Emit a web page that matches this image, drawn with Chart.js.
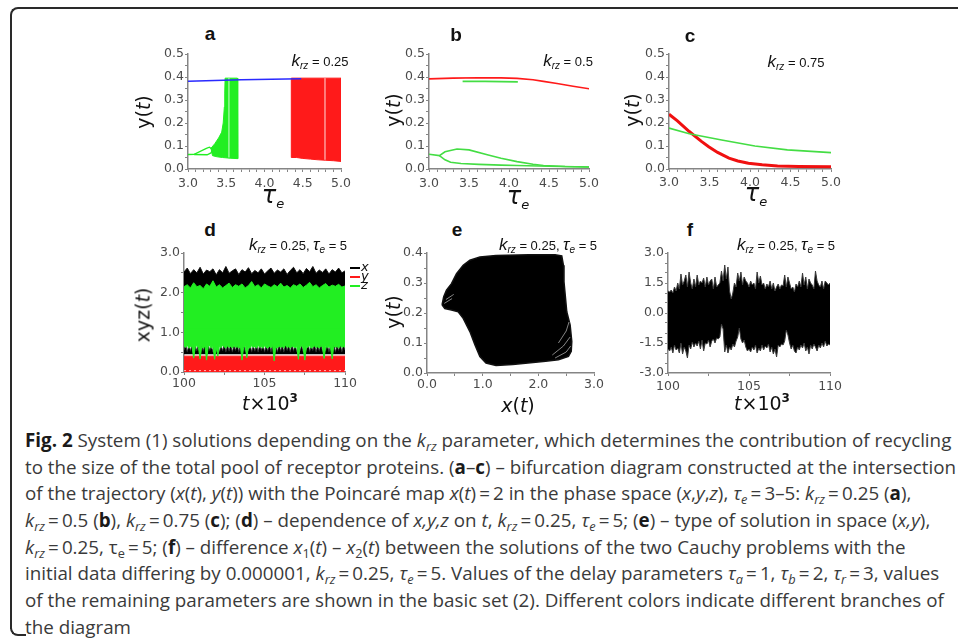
<!DOCTYPE html>
<html>
<head>
<meta charset="utf-8">
<script src="https://cdn.jsdelivr.net/npm/chart.js@4.4.1/dist/chart.umd.min.js"></script>
<style>
html, body { margin: 0; padding: 0; background: #fff; width: 958px; height: 644px; overflow: hidden; position: relative; font-family: 'DejaVu Sans', sans-serif; }
.box { position: absolute; }
.lbl { position: absolute; transform: translate(-50%, -50%); white-space: nowrap; color: #111; line-height: 1; }
.rot { transform: translate(-50%, -50%) rotate(-90deg); }
.letter { font-family: 'Liberation Sans', Arial, sans-serif; font-weight: bold; font-size: 19px; color: #111; }
.klab { font-family: 'Liberation Sans', Arial, sans-serif; font-size: 13px; color: #111; }
.klab .k { font-style: italic; font-size: 17px; }
.klab sub { font-size: 10px; font-style: italic; vertical-align: -3px; line-height: 0; }
.klab .t { font-style: italic; font-size: 17px; }
.atitle { font-size: 19px; color: #111; }
.atitle sub { font-size: 13px; font-style: italic; vertical-align: -5px; line-height: 0; }
.atitle sup { font-size: 12px; font-weight: bold; vertical-align: 8px; line-height: 0; }
.leg { position: absolute; font-size: 13px; font-style: italic; color: #111; line-height: 1; }
.legline { position: absolute; height: 2px; width: 10px; }
.frame { position: absolute; left: 10px; top: 7px; width: 1000px; height: 620px; border-left: 2px solid #2a2a2a; border-top: 2px solid #2a2a2a; border-top-left-radius: 8px; }
.frame2 { position: absolute; left: 10px; top: 624px; width: 14px; height: 10px; border-left: 2px solid #2a2a2a; border-bottom: 2px solid #2a2a2a; border-bottom-left-radius: 8px; }
#caption { position: absolute; left: 25px; top: 427px; font-family: 'Open Sans', sans-serif; font-size: 18.8px; line-height: 26.67px; color: #3a3a3a; }
#caption div { white-space: nowrap; }
#caption b { color: #1a1a1a; }
#caption sub { font-size: 0.68em; line-height: 0; vertical-align: -0.28em; }
</style>
</head>
<body>
<div class="frame"></div>
<div class="frame2"></div>

<script>
// ---------------------------------------------------------------- data
// (a) k_rz = 0.25
const aBlueX = [3.0, 3.7, 4.48];
const aBlueY = [0.381, 0.388, 0.392];
const aGreenAreaX = [3.30, 3.35, 3.40, 3.44, 3.46, 3.475, 3.48, 3.485, 3.645, 3.65, 3.55, 3.45, 3.38, 3.32, 3.30];
const aGreenAreaY = [0.09, 0.11, 0.135, 0.16, 0.20, 0.27, 0.33, 0.395, 0.395, 0.045, 0.047, 0.05, 0.053, 0.058, 0.09];
const aBranchUX = [3.0, 3.08, 3.24, 3.28, 3.32];
const aBranchUY = [0.063, 0.064, 0.09, 0.095, 0.085];
const aBranchLX = [3.08, 3.25, 3.30, 3.32];
const aBranchLY = [0.063, 0.062, 0.07, 0.085];
const aRedAreaX = [4.35, 5.0, 5.0, 4.9, 4.8, 4.7, 4.6, 4.5, 4.42, 4.35, 4.35];
const aRedAreaY = [0.395, 0.395, 0.033, 0.036, 0.038, 0.04, 0.043, 0.046, 0.05, 0.05, 0.395];
const aGapX = [4.79, 4.79, null, 3.535, 3.535];
const aGapY = [0.04, 0.395, null, 0.05, 0.395];

// (b) k_rz = 0.5
const bRedX = [3.0, 3.3, 3.62, 3.9, 4.1, 4.3, 4.43, 4.6, 4.8, 5.0];
const bRedY = [0.392, 0.395, 0.397, 0.396, 0.394, 0.388, 0.381, 0.372, 0.36, 0.349];
const bGreenShortX = [3.42, 3.7, 4.11];
const bGreenShortY = [0.381, 0.381, 0.379];
const bGreenUpX = [3.0, 3.13, 3.2, 3.35, 3.5, 3.74, 3.9, 4.1, 4.3, 4.43, 4.7, 5.0];
const bGreenUpY = [0.064, 0.058, 0.075, 0.087, 0.083, 0.061, 0.047, 0.032, 0.021, 0.015, 0.011, 0.009];
const bGreenLoX = [3.13, 3.2, 3.27, 3.4, 3.62, 3.9, 4.1, 4.5, 5.0];
const bGreenLoY = [0.058, 0.04, 0.029, 0.024, 0.02, 0.017, 0.015, 0.012, 0.009];

// (c) k_rz = 0.75
const cRedX = [3.0, 3.1, 3.25, 3.4, 3.49, 3.6, 3.74, 3.85, 3.98, 4.15, 4.34, 4.6, 5.0];
const cRedY = [0.238, 0.21, 0.163, 0.12, 0.097, 0.072, 0.047, 0.035, 0.025, 0.018, 0.013, 0.011, 0.010];
const cGreenX = [3.0, 3.25, 3.65, 4.06, 4.46, 5.0];
const cGreenY = [0.178, 0.153, 0.126, 0.1, 0.083, 0.071];

// (d) x, y, z against t (x10^3), sampled envelopes
const dT0 = 100;
const dRedX = [100, 110];
const dRedY = [0.4, 0.4];
const dBlackTop = [   // every 0.2
  2.52, 2.62, 2.48, 2.58, 2.5, 2.64, 2.47, 2.57, 2.53, 2.6,
  2.45, 2.58, 2.5, 2.66, 2.49, 2.55, 2.6, 2.46, 2.58, 2.52,
  2.63, 2.48, 2.56, 2.5, 2.6, 2.47, 2.55, 2.62, 2.49, 2.57,
  2.52, 2.6, 2.46, 2.56, 2.64, 2.5, 2.58, 2.48, 2.61, 2.53,
  2.66, 2.49, 2.57, 2.51, 2.6, 2.47, 2.58, 2.52, 2.62, 2.5, 2.55];
const dGreenTop = [   // every 0.2
  2.15, 2.2, 2.12, 2.25, 2.15, 2.18, 2.1, 2.22, 2.16, 2.3,
  2.14, 2.2, 2.12, 2.18, 2.24, 2.13, 2.2, 2.16, 2.22, 2.12,
  2.18, 2.28, 2.15, 2.2, 2.12, 2.22, 2.17, 2.13, 2.2, 2.15,
  2.24, 2.14, 2.18, 2.12, 2.2, 2.16, 2.22, 2.13, 2.19, 2.26,
  2.15, 2.2, 2.12, 2.18, 2.23, 2.14, 2.19, 2.16, 2.21, 2.14, 2.17];
const dBlackLow = 0.45;
const dBlackTeeth = [   // every 0.1
  0.55, 0.7, 0.5, 0.68, 0.52, 0.72, 0.5, 0.66, 0.53, 0.7,
  0.5, 0.67, 0.52, 0.75, 0.5, 0.69, 0.54, 0.66, 0.5, 0.78,
  0.52, 0.7, 0.5, 0.66, 0.53, 0.72, 0.5, 0.68, 0.52, 0.7,
  0.5, 0.66, 0.54, 0.71, 0.5, 0.68, 0.52, 0.74, 0.5, 0.67,
  0.53, 0.7, 0.5, 0.66, 0.52, 0.72, 0.5, 0.68, 0.54, 0.7,
  0.5, 0.67, 0.52, 0.7, 0.5, 0.73, 0.53, 0.66, 0.5, 0.7,
  0.52, 0.68, 0.5, 0.72, 0.54, 0.66, 0.5, 0.7, 0.52, 0.68,
  0.5, 0.71, 0.53, 0.66, 0.5, 0.7, 0.52, 0.74, 0.5, 0.67,
  0.54, 0.7, 0.5, 0.68, 0.52, 0.72, 0.5, 0.66, 0.53, 0.7,
  0.5, 0.68, 0.52, 0.71, 0.5, 0.67, 0.54, 0.7, 0.5, 0.69, 0.55];
const dGreenLow = [   // every 0.1
  0.66, 0.62, 0.68, 0.6, 0.65, 0.63, 0.35, 0.62, 0.67, 0.61,
  0.33, 0.64, 0.6, 0.66, 0.3, 0.62, 0.68, 0.6, 0.64, 0.32,
  0.62, 0.4, 0.66, 0.61, 0.68, 0.63, 0.6, 0.66, 0.62, 0.65,
  0.6, 0.67, 0.62, 0.64, 0.6, 0.66, 0.3, 0.62, 0.65, 0.36,
  0.63, 0.6, 0.67, 0.62, 0.65, 0.6, 0.68, 0.62, 0.64, 0.6,
  0.66, 0.62, 0.6, 0.65, 0.61, 0.67, 0.28, 0.63, 0.6, 0.66,
  0.62, 0.65, 0.6, 0.68, 0.62, 0.64, 0.6, 0.66, 0.63, 0.61,
  0.65, 0.32, 0.62, 0.66, 0.6, 0.3, 0.64, 0.62, 0.67, 0.6,
  0.63, 0.66, 0.61, 0.64, 0.6, 0.67, 0.62, 0.34, 0.65, 0.61,
  0.64, 0.6, 0.33, 0.66, 0.62, 0.65, 0.6, 0.67, 0.62, 0.64, 0.63];

// (e) phase portrait outline (x, y)
const eBlobX = [0.27, 0.30, 0.35, 0.44, 0.53, 0.65, 0.77, 0.95, 1.24, 1.83, 2.30, 2.42, 2.45, 2.46, 2.51, 2.57, 2.60,
                2.59, 2.54, 2.36, 2.13, 1.54, 1.24, 1.06, 0.95, 0.86, 0.77, 0.65, 0.56, 0.44, 0.32, 0.27];
const eBlobY = [0.227, 0.254, 0.276, 0.298, 0.331, 0.359, 0.376, 0.387, 0.392, 0.394, 0.394, 0.39, 0.359, 0.304, 0.204, 0.16, 0.105,
                0.072, 0.055, 0.044, 0.039, 0.028, 0.025, 0.033, 0.055, 0.094, 0.138, 0.182, 0.204, 0.21, 0.215, 0.227];
const eStreakX = [0.31, 0.45, null, 0.34, 0.48, null, 2.25, 2.45, 2.57, null, 2.3, 2.5, 2.58, null, 2.36, 2.5, 2.55];
const eStreakY = [0.232, 0.248, null, 0.245, 0.262, null, 0.06, 0.09, 0.12, null, 0.05, 0.07, 0.09, null, 0.1, 0.14, 0.17];

// (f) x1(t) - x2(t), envelope every 0.1
const fUpper = [
  1.1, 1.05, 1.15, 1.0, 1.3, 1.1, 1.5, 1.2, 1.95, 1.4, 1.6,
  1.9, 1.3, 2.05, 1.5, 1.2, 1.7, 1.3, 1.9, 1.4, 1.6,
  1.5, 1.75, 1.3, 1.8, 1.4, 1.6, 1.7, 1.2, 1.8, 1.3,
  1.4, 1.5, 2.1, 1.6, 2.4, 1.7, 2.3, 1.1, 0.7, 1.0,
  1.5, 1.3, 2.0, 1.6, 2.05, 1.4, 1.8, 1.6, 1.5, 1.3,
  1.6, 1.4, 1.5, 1.2, 2.05, 1.5, 1.85, 1.4, 1.5, 1.2,
  1.45, 1.3, 1.6, 1.2, 1.5, 1.1, 1.3, 1.45, 1.2, 1.4,
  1.35, 1.9, 1.3, 1.8, 1.5, 1.2, 1.3, 1.05, 1.45, 1.3,
  1.6, 1.3, 2.0, 1.4, 1.8, 1.2, 1.7, 1.5, 1.4, 1.2,
  2.1, 1.6, 1.4, 1.3, 1.6, 1.2, 1.6, 1.5, 1.4, 1.5];
const fLower = [
  -1.8, -1.9, -1.7, -2.0, -1.6, -1.85, -1.75, -2.0, -1.5, -2.05, -1.7,
  -1.9, -2.25, -1.6, -1.8, -1.45, -1.7, -1.5, -1.65, -1.4, -1.8,
  -1.35, -1.9, -1.5, -1.55, -1.35, -1.7, -1.4, -1.3, -1.5, -1.25,
  -1.3, -1.2, -0.55, -0.8, -1.95, -1.6, -2.0, -1.7, -1.85, -1.55,
  -1.7, -1.4, -1.2, -0.75, -1.3, -1.5, -1.35, -1.7, -1.9, -1.8,
  -1.95, -1.7, -1.85, -1.6, -2.0, -1.75, -1.9, -1.6, -1.85, -1.65,
  -1.75, -1.55, -1.95, -1.7, -2.05, -1.8, -2.2, -1.6, -1.7, -1.55,
  -1.6, -1.4, -0.85, -1.1, -1.5, -1.8, -1.6, -1.9, -2.0, -1.7,
  -1.85, -1.6, -1.75, -1.5, -1.9, -1.7, -2.05, -1.6, -1.8, -1.55,
  -1.7, -1.9, -1.6, -1.75, -1.5, -1.7, -1.4, -1.65, -1.55, -1.6];

// ---------------------------------------------------------------- colours
const RED = '#ff1a1a';
const GREEN = '#22ee22';
const LGREEN = '#44dd44';
const BLUE = '#2a2aff';

// ---------------------------------------------------------------- helpers
function pts(xs, ys) {
    return xs.map((x, i) => ({x: x, y: ys[i]}));
}
function grid(t0, dt, ys) {
    return ys.map((y, i) => ({x: t0 + i * dt, y: y}));
}
function line(data, color, width, extra) {
    return Object.assign({
        data: data,
        showLine: true,
        borderColor: color,
        borderWidth: width,
        pointRadius: 0,
        fill: false,
        tension: 0,
        spanGaps: false
    }, extra || {});
}
function isMajor(v, s) {
    const q = v / s.major;
    return Math.abs(q - Math.round(q)) < 1e-6;
}
function axis(s, dir) {
    return {
        type: 'linear',
        min: s.min,
        max: s.max,
        afterFit: (sc) => {
            if (dir === 'x') { sc.height = 30; } else { sc.width = 40; }
        },
        border: { display: true, color: '#858585', width: 1.5 },
        grid: { drawOnChartArea: false, drawTicks: true, tickLength: 3, color: '#858585', lineWidth: 1 },
        ticks: {
            stepSize: s.minor,
            autoSkip: false,
            maxRotation: 0,
            padding: s.pad,
            color: '#4a4a4a',
            font: { family: 'DejaVu Sans', size: 12.5 },
            callback: (v) => isMajor(v, s) ? Number(v).toFixed(s.dec) : ''
        }
    };
}
function makePanel(area, xs, ys, layers) {
    const W = area.r - area.l + 50;
    const H = area.b - area.t + 40;
    const wrap = document.createElement('div');
    wrap.className = 'box';
    wrap.style.left = (area.l - 40) + 'px';
    wrap.style.top = (area.t - 10) + 'px';
    const cv = document.createElement('canvas');
    cv.width = W;
    cv.height = H;
    cv.style.width = W + 'px';
    cv.style.height = H + 'px';
    wrap.appendChild(cv);
    document.body.appendChild(wrap);

    // layers come bottom-first, Chart.js paints the first dataset on top
    new Chart(cv, {
        type: 'scatter',
        data: { datasets: layers.slice().reverse() },
        options: {
            responsive: false,
            animation: false,
            devicePixelRatio: 1,
            events: [],
            layout: { padding: { left: 0, top: 10, right: 10, bottom: 0 } },
            plugins: { legend: { display: false }, tooltip: { enabled: false } },
            scales: { x: axis(xs, 'x'), y: axis(ys, 'y') }
        }
    });
}
function place(html, x, y, cls) {
    const el = document.createElement('div');
    el.className = 'lbl ' + (cls || '');
    el.innerHTML = html;
    el.style.left = x + 'px';
    el.style.top = y + 'px';
    document.body.appendChild(el);
    return el;
}

// ---------------------------------------------------------------- panels
const axTau = (pad) => ({ min: 3, max: 5, minor: 0.1, major: 0.5, dec: 1, pad: pad });
const axY05 = { min: 0, max: 0.5, minor: 0.05, major: 0.1, dec: 1, pad: 1 };

makePanel({ l: 188, r: 345, t: 54, b: 169 }, axTau(4), axY05, [
    line(pts(aRedAreaX, aRedAreaY), RED, 1, { fill: 'shape', backgroundColor: RED }),
    line(pts(aGapX, aGapY), 'rgba(255,255,255,0.85)', 1),
    line(pts(aGreenAreaX, aGreenAreaY), GREEN, 1, { fill: 'shape', backgroundColor: GREEN }),
    line(pts(aGapX, aGapY).slice(3), 'rgba(255,255,255,0.8)', 1),
    line(pts(aBranchUX, aBranchUY), GREEN, 1.3),
    line(pts(aBranchLX, aBranchLY), GREEN, 1.3),
    line(pts(aBlueX, aBlueY), BLUE, 1.5)
]);

makePanel({ l: 429, r: 593, t: 54, b: 169 }, axTau(4), axY05, [
    line(pts(bRedX, bRedY), RED, 1.6),
    line(pts(bGreenShortX, bGreenShortY), LGREEN, 1.6),
    line(pts(bGreenUpX, bGreenUpY), LGREEN, 1.6),
    line(pts(bGreenLoX, bGreenLoY), LGREEN, 1.6)
]);

makePanel({ l: 669, r: 834, t: 54, b: 169 }, axTau(3), axY05, [
    line(pts(cRedX, cRedY), '#f01010', 3),
    line(pts(cGreenX, cGreenY), LGREEN, 1.6)
]);

// overlapping fill bases avoid a seam where two fills meet
makePanel({ l: 184, r: 348, t: 253, b: 372 },
    { min: 100, max: 110, minor: 2.5, major: 5, dec: 0, pad: 1 },
    { min: 0, max: 3, minor: 0.5, major: 1, dec: 1, pad: 1 }, [
    line(pts(dRedX, dRedY), RED, 1, { fill: { value: 0 }, backgroundColor: RED }),
    line(pts(dRedX, [0.035, 0.035]), 'rgba(255,255,255,0.7)', 1, { borderDash: [2, 3] }),
    line(grid(dT0, 0.2, dBlackTop), '#111', 1, { fill: { value: 1.5 }, backgroundColor: '#000' }),
    line(grid(dT0, 0.1, dBlackTeeth), '#222', 0.8, { fill: { value: dBlackLow }, backgroundColor: '#000' }),
    line(grid(dT0, 0.2, dGreenTop), GREEN, 1, { fill: { value: 0.9 }, backgroundColor: GREEN }),
    line(grid(dT0, 0.1, dGreenLow), GREEN, 1, { fill: { value: 1.1 }, backgroundColor: GREEN })
]);

makePanel({ l: 427, r: 595, t: 253, b: 373 },
    { min: 0, max: 3, minor: 0.5, major: 1, dec: 1, pad: 1 },
    { min: 0, max: 0.4, minor: 0.05, major: 0.1, dec: 1, pad: 1 }, [
    line(pts(eBlobX, eBlobY), '#111', 1.5, { fill: 'shape', backgroundColor: '#000' }),
    line(pts(eStreakX, eStreakY), 'rgba(255,255,255,0.75)', 0.7)
]);

makePanel({ l: 668, r: 835, t: 253, b: 373 },
    { min: 100, max: 110, minor: 2.5, major: 5, dec: 0, pad: 3 },
    { min: -3, max: 3, minor: 0.5, major: 1.5, dec: 1, pad: 1 }, [
    line(grid(dT0, 0.1, fUpper), '#3a3a3a', 1, { fill: { value: -0.2 }, backgroundColor: '#000' }),
    line(grid(dT0, 0.1, fLower), '#3a3a3a', 1, { fill: { value: 0.2 }, backgroundColor: '#000' })
]);

// ---------------------------------------------------------------- text
const K = (v) => '<span class="k">k</span><sub>rz</sub>&nbsp;= ' + v;
const KT = '<span class="k">k</span><sub>rz</sub>&nbsp;= 0.25, <span class="t">&tau;</span><sub>e</sub>&nbsp;= 5';
const TAU = '<i style="font-size:24px">&tau;</i><sub>e</sub>';
const TX = '<i>t</i>&times;10<sup>3</sup>';
const YT = 'y(<i>t</i>)';

[['a', 210, 33], ['b', 456, 34], ['c', 690, 35], ['d', 210, 229], ['e', 457, 229], ['f', 690, 229]]
    .forEach(p => place(p[0], p[1], p[2], 'letter'));

place(K('0.25'), 320, 60, 'klab');
place(K('0.5'), 568, 60, 'klab');
place(K('0.75'), 796, 61, 'klab');
place(KT, 298, 244, 'klab');
place(KT, 548, 244, 'klab');
place(KT, 786, 244, 'klab');

place(TAU, 273, 195, 'atitle');
place(TAU, 518, 196, 'atitle');
place(TAU, 756, 193, 'atitle');
place(TX, 270, 403, 'atitle');
place('<i>x</i>(<i>t</i>)', 518, 405, 'atitle');
place(TX, 762, 403, 'atitle');

place(YT, 143, 112, 'atitle rot');
place(YT, 393, 110, 'atitle rot');
place(YT, 632, 110, 'atitle rot');
place('xyz(<i>t</i>)', 143, 315, 'atitle rot');
place(YT, 393, 312, 'atitle rot');

// legend of panel d
[['x', '#000', 268], ['y', RED, 277], ['z', GREEN, 286]].forEach(l => {
    const ln = document.createElement('div');
    ln.className = 'legline';
    ln.style.left = '350px';
    ln.style.top = (l[2] - 1) + 'px';
    ln.style.background = l[1];
    document.body.appendChild(ln);
    const tx = document.createElement('div');
    tx.className = 'leg';
    tx.textContent = l[0];
    tx.style.left = '361px';
    tx.style.top = (l[2] - 8) + 'px';
    document.body.appendChild(tx);
});
</script>

<div id="caption">
<div><b>Fig. 2</b> System (1) solutions depending on the <i>k</i><sub><i>rz</i></sub> parameter, which determines the contribution of recycling</div>
<div>to the size of the total pool of receptor proteins. (<b>a</b>–<b>c</b>) – bifurcation diagram constructed at the intersection</div>
<div>of the trajectory (<i>x</i>(<i>t</i>), <i>y</i>(<i>t</i>)) with the Poincaré map <i>x</i>(<i>t</i>)&thinsp;=&thinsp;2 in the phase space (<i>x</i>,<i>y</i>,<i>z</i>), <i>τ</i><sub><i>e</i></sub>&thinsp;=&thinsp;3–5: <i>k</i><sub><i>rz</i></sub>&thinsp;=&thinsp;0.25 (<b>a</b>),</div>
<div><i>k</i><sub><i>rz</i></sub>&thinsp;=&thinsp;0.5 (<b>b</b>), <i>k</i><sub><i>rz</i></sub>&thinsp;=&thinsp;0.75 (<b>c</b>); (<b>d</b>) – dependence of <i>x,y,z</i> on <i>t</i>, <i>k</i><sub><i>rz</i></sub>&thinsp;=&thinsp;0.25, <i>τ</i><sub><i>e</i></sub>&thinsp;=&thinsp;5; (<b>e</b>) – type of solution in space (<i>x,y</i>),</div>
<div><i>k</i><sub><i>rz</i></sub>&thinsp;=&thinsp;0.25, τ<sub>e</sub>&thinsp;=&thinsp;5; (<b>f</b>) – difference <i>x</i><sub>1</sub>(<i>t</i>) – <i>x</i><sub>2</sub>(<i>t</i>) between the solutions of the two Cauchy problems with the</div>
<div>initial data differing by 0.000001, <i>k</i><sub><i>rz</i></sub>&thinsp;=&thinsp;0.25, <i>τ</i><sub><i>e</i></sub>&thinsp;=&thinsp;5. Values of the delay parameters <i>τ</i><sub><i>a</i></sub>&thinsp;=&thinsp;1, <i>τ</i><sub><i>b</i></sub>&thinsp;=&thinsp;2, <i>τ</i><sub><i>r</i></sub>&thinsp;=&thinsp;3, values</div>
<div>of the remaining parameters are shown in the basic set (2). Different colors indicate different branches of</div>
<div>the diagram</div>
</div>
</body>
</html>
